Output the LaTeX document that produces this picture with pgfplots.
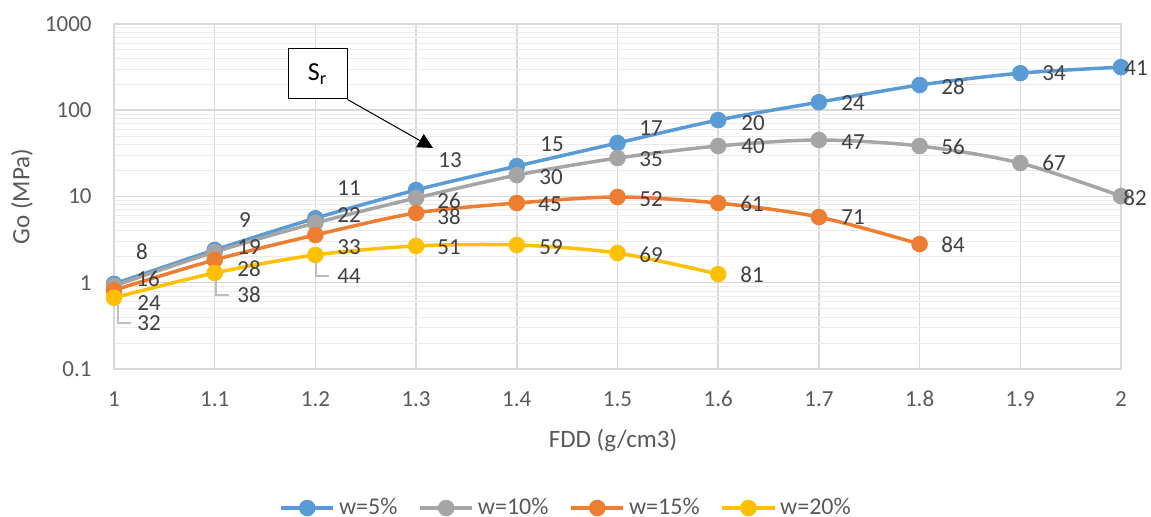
\documentclass[border=0pt]{standalone}
\usepackage{fontspec}
\setmainfont{Carlito}
\usepackage{pgfplots}
\pgfplotsset{compat=1.18}
\usetikzlibrary{arrows.meta}

\definecolor{cblue}{HTML}{5B9BD5}
\definecolor{cgrey}{HTML}{A5A5A5}
\definecolor{corange}{HTML}{ED7D31}
\definecolor{cyellow}{HTML}{FFC000}
\definecolor{gridc}{HTML}{D9D9D9}
\definecolor{minorc}{HTML}{EBEBEB}
\definecolor{tickc}{HTML}{595959}
\definecolor{labc}{HTML}{404040}

\begin{document}
\begin{tikzpicture}
\begin{axis}[
  name=ax,
  scale only axis,
  width=503.5pt, height=172.5pt,
  ymode=log,
  xmin=1, xmax=2, ymin=0.1, ymax=1000,
  xtick={1,1.1,1.2,1.3,1.4,1.5,1.6,1.7,1.8,1.9,2},
  xticklabels={1,1.1,1.2,1.3,1.4,1.5,1.6,1.7,1.8,1.9,2},
  ytick={0.1,1,10,100,1000},
  yticklabels={0.1,1,10,100,1000},
  xmajorgrids, ymajorgrids, yminorgrids,
  major grid style={draw=gridc, line width=0.75pt},
  minor grid style={draw=minorc, line width=0.5pt},
  axis line style={draw=gridc, line width=0.75pt},
  major tick length=0pt, minor tick length=0pt,
  tick style={draw=none},
  clip=false,
  ticklabel style={font=\fontsize{11.5}{13}\selectfont, text=tickc, inner sep=0pt},
  xticklabel style={anchor=center, yshift=-15pt},
  yticklabel style={anchor=east, xshift=-11pt},
  xlabel={FDD (g/cm3)},
  ylabel={Go (MPa)},
  label style={font=\fontsize{12.5}{14}\selectfont, text=tickc},
  xlabel style={at={(axis description cs:0.4955,-0.2087)}, anchor=center},
  ylabel style={at={(axis description cs:-0.0914,0.5)}, anchor=center},
  legend style={at={(axis description cs:0.45,-0.403)}, anchor=center,
    legend columns=4, draw=none, fill=none,
    font=\fontsize{12}{14}\selectfont, text=tickc,
    /tikz/every odd column/.append style={column sep=0pt},
    /tikz/every even column/.append style={column sep=8.5pt}},
  legend image code/.code={\draw[mark repeat=2,mark phase=2]
    plot coordinates {(0pt,0pt) (13pt,0pt) (26pt,0pt)};},
  every axis plot/.append style={line width=1.75pt, mark=*, mark size=3.25pt, smooth},
]
% w = 5%
\addplot[color=cblue, mark options={solid, fill=cblue}] coordinates {
  (1.0,0.97) (1.1,2.4) (1.2,5.6) (1.3,11.9) (1.4,22.5) (1.5,41.7)
  (1.6,77) (1.7,124) (1.8,196) (1.9,269) (2.0,316)};
\addlegendentry{w=5\%}
% w = 10%
\addplot[color=cgrey, mark options={solid, fill=cgrey}] coordinates {
  (1.0,0.92) (1.1,2.27) (1.2,4.93) (1.3,9.6) (1.4,17.7) (1.5,27.9)
  (1.6,38.5) (1.7,45.2) (1.8,38.5) (1.9,24.4) (2.0,10.1)};
\addlegendentry{w=10\%}
% w = 15%
\addplot[color=corange, mark options={solid, fill=corange}] coordinates {
  (1.0,0.82) (1.1,1.84) (1.2,3.58) (1.3,6.44) (1.4,8.4) (1.5,9.87)
  (1.6,8.4) (1.7,5.78) (1.8,2.81)};
\addlegendentry{w=15\%}
% w = 20%
\addplot[color=cyellow, mark options={solid, fill=cyellow}] coordinates {
  (1.0,0.67) (1.1,1.30) (1.2,2.10) (1.3,2.67) (1.4,2.74) (1.5,2.21)
  (1.6,1.26)};
\addlegendentry{w=20\%}
\end{axis}

% annotations in reference pixel units (origin top-left of the picture)
\begin{scope}[shift={(ax.south west)}, x=0.5pt, y=-0.5pt, shift={(-114,-369)},
  lab/.style={font=\fontsize{11.5}{13}\selectfont, text=labc, inner sep=0pt}]
  % S_r values, w=5%
  \foreach \px/\py/\t in {142/252/8, 245/220/9, 349/188/11, 450/160/13, 552/144/15,
      651/128/17, 753/123/20, 853/103/24, 953/87/28, 1054/73/34, 1136/68/41}
    \node[lab] at (\px,\py) {\t};
  % w=10%
  \foreach \px/\py/\t in {148/279/16, 249/247/19, 349/215/22, 449/201/26, 551/177/30,
      651/159/35, 753/146/40, 853/142/47, 953/147/56, 1054/163/67, 1135/198/82}
    \node[lab] at (\px,\py) {\t};
  % w=15%
  \foreach \px/\py/\t in {149/303/24, 249/269/28, 349/247/33, 449/217/38, 550/204/45,
      651/199/52, 752/204/61, 853/217/71, 953/245/84}
    \node[lab] at (\px,\py) {\t};
  % w=20%
  \foreach \px/\py/\t in {149/323/32, 249/295/38, 349/276/44, 449/247/51, 551/247/59,
      651/255/69, 752/275/81}
    \node[lab] at (\px,\py) {\t};
  % leader lines
  \draw[gridc!70!gray, line width=0.8pt] (118,304) -- (118,323) -- (131,323);
  \draw[gridc!70!gray, line width=0.8pt] (216,280) -- (216,295) -- (229,295);
  \draw[gridc!70!gray, line width=0.8pt] (316,262) -- (316,276) -- (329,276);
  % S_r callout
  \node[draw=black, fill=white, line width=0.5pt, minimum width=29.5pt,
    minimum height=25pt, inner sep=0pt, font=\fontsize{13}{15}\selectfont]
    (sr) at (317.5,74) {S\textsubscript{r}};
  \draw[black, line width=0.5pt, -{Triangle[length=7.5pt,width=7.5pt]}]
    (sr.south east) -- (433,148);
  \pgfresetboundingbox
  \path[use as bounding box] (0,0) rectangle (1151,517);
\end{scope}
\end{tikzpicture}
\end{document}
